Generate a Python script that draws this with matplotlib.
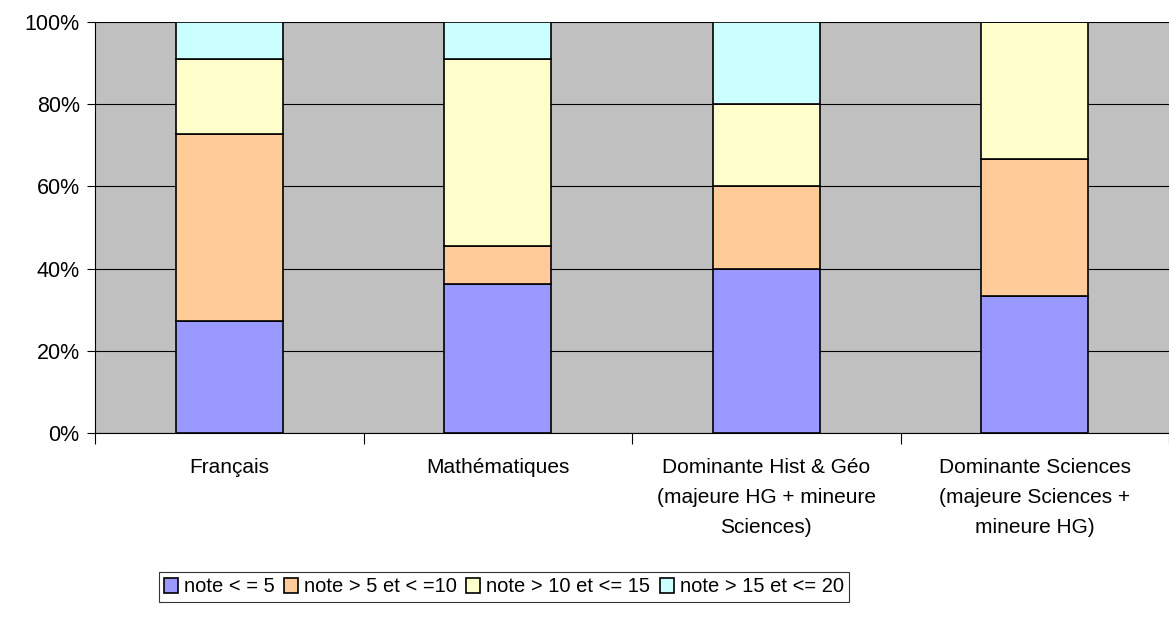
import matplotlib.pyplot as plt
import numpy as np

plt.rcParams['font.family'] = ['Liberation Sans', 'DejaVu Sans']

# données (pourcentages)
categories = ["Français", "Mathématiques",
              "Dominante Hist & Géo\n(majeure HG + mineure\nSciences)",
              "Dominante Sciences\n(majeure Sciences +\nmineure HG)"]
series_names = ["note < = 5", "note > 5 et < =10", "note > 10 et <= 15", "note > 15 et <= 20"]
note_0_5 = [27.27, 36.36, 40.0, 33.33]
note_5_10 = [45.45, 9.09, 20.0, 33.33]
note_10_15 = [18.18, 45.45, 20.0, 33.34]
note_15_20 = [9.10, 9.10, 20.0, 0.0]
couleurs = ["#9999FF", "#FFCC99", "#FFFFCC", "#CCFFFF"]

fig = plt.figure(figsize=(11.69, 6.18), dpi=100)
ax = fig.add_axes([95 / 1169, 1 - 433 / 618, 1 - 95 / 1169, (433 - 22) / 618])
ax.set_facecolor("#C0C0C0")

x = np.arange(len(categories))
bas = np.zeros(len(categories))
for vals, nom, c in zip([note_0_5, note_5_10, note_10_15, note_15_20], series_names, couleurs):
    ax.bar(x, vals, width=0.4, bottom=bas, color=c, edgecolor="black", linewidth=1.2,
           label=nom, zorder=3)
    bas += np.array(vals)

ax.set_xlim(-0.5, len(categories) - 0.5)
ax.set_ylim(0, 100)
ax.set_yticks(np.arange(0, 101, 20))
ax.set_yticklabels([f"{v}%" for v in range(0, 101, 20)], fontsize=15.5)
ax.yaxis.grid(True, color="black", linewidth=0.8, zorder=1)
ax.tick_params(axis="y", length=6, width=0.8, pad=5)

# ticks entre les catégories
ax.set_xticks(np.arange(-0.5, len(categories), 1.0))
ax.set_xticklabels([])
ax.tick_params(axis="x", length=8, width=0.8, direction="out")
for xi, lab in zip(x, categories):
    ax.text(xi, -6.0, lab, ha="center", va="top", fontsize=15, linespacing=1.75,
            transform=ax.transData)

for s in ["top", "right"]:
    ax.spines[s].set_visible(False)
ax.spines["left"].set_linewidth(0.8)
ax.spines["bottom"].set_linewidth(0.8)

leg = fig.legend(loc="center", bbox_to_anchor=(504 / 1169, 1 - 587 / 618), ncol=4,
                 fontsize=14.5, frameon=True, fancybox=False, edgecolor="black",
                 handlelength=0.7, handleheight=0.7, handletextpad=0.3,
                 columnspacing=0.45, borderpad=0.25, borderaxespad=0)
leg.get_frame().set_linewidth(0.8)

fig.savefig("out.png", dpi=100)
